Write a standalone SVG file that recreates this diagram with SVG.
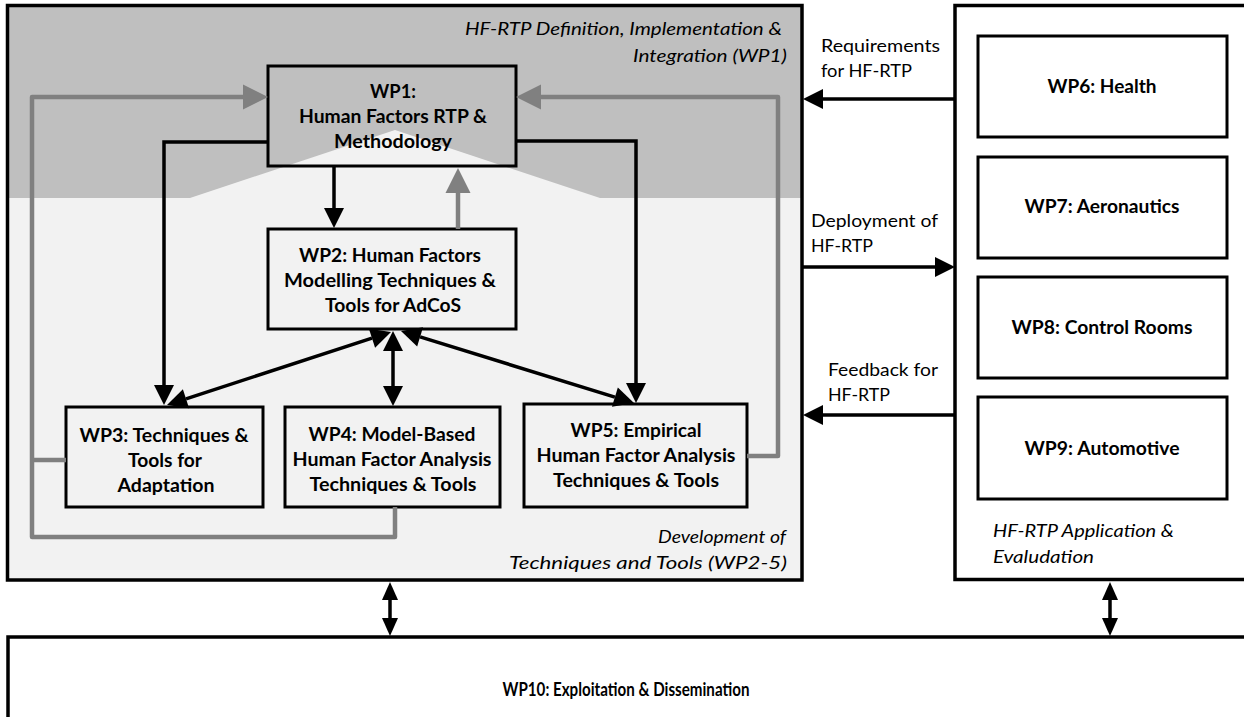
<svg xmlns="http://www.w3.org/2000/svg" width="1244" height="717" viewBox="0 0 1244 717">
<style>
.box{stroke:#000;stroke-width:3;}
.outer{stroke:#000;stroke-width:3.5;}
.lb{font-family:Lato,"Liberation Sans",sans-serif;font-weight:bold;font-size:18px;fill:#000;text-anchor:middle;}
.it{font-family:Lato,"Liberation Sans",sans-serif;font-style:italic;font-size:17px;fill:#000;}
.cl{font-family:Lato,"Liberation Sans",sans-serif;font-size:17px;fill:#000;}
.blk{fill:none;stroke:#000;stroke-width:3.5;}
.gry{fill:none;stroke:#808080;stroke-width:4.5;stroke-linejoin:round;}
</style>
<defs>
<marker id="ab" markerUnits="userSpaceOnUse" markerWidth="20" markerHeight="20" refX="0" refY="10" orient="auto-start-reverse" overflow="visible"><path d="M0,0 L20,10 L0,20 Z" fill="#000"/></marker>
<marker id="ag" markerUnits="userSpaceOnUse" markerWidth="25" markerHeight="25" refX="0" refY="12.5" orient="auto-start-reverse" overflow="visible"><path d="M0,0 L25,12.5 L0,25 Z" fill="#808080"/></marker>
<marker id="as" markerUnits="userSpaceOnUse" markerWidth="18" markerHeight="16" refX="0" refY="8" orient="auto-start-reverse" overflow="visible"><path d="M0,0 L18,8 L0,16 Z" fill="#000"/></marker>
</defs>
<rect width="1244" height="717" fill="#fff"/>

<g id="dev-area">
<rect x="7.5" y="5.5" width="794.5" height="574.5" fill="#f2f2f2"/>
<polygon points="9,7 801,7 801,198 600,198 395,130 190,198 9,198" fill="#bfbfbf"/>
<rect x="7.5" y="5.5" width="794.5" height="574.5" fill="none" class="outer"/>
<text class="it" x="782" y="35" text-anchor="end" textLength="317" lengthAdjust="spacingAndGlyphs">HF-RTP Definition, Implementation &amp;</text>
<text class="it" x="787" y="62" text-anchor="end" textLength="154" lengthAdjust="spacingAndGlyphs">Integration (WP1)</text>
<text class="it" x="786" y="543" text-anchor="end" textLength="128" lengthAdjust="spacingAndGlyphs">Development of</text>
<text class="it" x="787" y="569" text-anchor="end" textLength="278" lengthAdjust="spacingAndGlyphs">Techniques and Tools (WP2-5)</text>
</g>

<g id="app-area">
<rect x="955" y="5.5" width="300" height="574" fill="#fff" class="outer"/>
<text class="it" x="993" y="537" textLength="181" lengthAdjust="spacingAndGlyphs">HF-RTP Application &amp;</text>
<text class="it" x="993" y="563" textLength="101" lengthAdjust="spacingAndGlyphs">Evaludation</text>
</g>

<g id="wp1">
<rect x="268" y="66" width="248" height="100" fill="none" class="box"/>
<text class="lb" x="393" y="98" textLength="46" lengthAdjust="spacingAndGlyphs">WP1:</text>
<text class="lb" x="393" y="123" textLength="188" lengthAdjust="spacingAndGlyphs">Human Factors RTP &amp;</text>
<text class="lb" x="393" y="148" textLength="118" lengthAdjust="spacingAndGlyphs">Methodology</text>
</g>
<g id="wp2">
<rect x="268" y="229" width="248" height="100" fill="#f2f2f2" class="box"/>
<text class="lb" x="390" y="262" textLength="182" lengthAdjust="spacingAndGlyphs">WP2: Human Factors</text>
<text class="lb" x="390" y="287" textLength="212" lengthAdjust="spacingAndGlyphs">Modelling Techniques &amp;</text>
<text class="lb" x="393" y="312" textLength="136" lengthAdjust="spacingAndGlyphs">Tools for AdCoS</text>
</g>
<g id="wp3">
<rect x="66" y="407" width="197" height="100" fill="#f2f2f2" class="box"/>
<text class="lb" x="164" y="442" textLength="169" lengthAdjust="spacingAndGlyphs">WP3: Techniques &amp;</text>
<text class="lb" x="165" y="467" textLength="74" lengthAdjust="spacingAndGlyphs">Tools for</text>
<text class="lb" x="166" y="492" textLength="97" lengthAdjust="spacingAndGlyphs">Adaptation</text>
</g>
<g id="wp4">
<rect x="285" y="407" width="215" height="100" fill="#f2f2f2" class="box"/>
<text class="lb" x="392" y="441" textLength="167" lengthAdjust="spacingAndGlyphs">WP4: Model-Based</text>
<text class="lb" x="392" y="466" textLength="199" lengthAdjust="spacingAndGlyphs">Human Factor Analysis</text>
<text class="lb" x="393" y="491" textLength="167" lengthAdjust="spacingAndGlyphs">Techniques &amp; Tools</text>
</g>
<g id="wp5">
<rect x="524" y="404" width="223" height="103" fill="#f2f2f2" class="box"/>
<text class="lb" x="636" y="437" textLength="131" lengthAdjust="spacingAndGlyphs">WP5: Empirical</text>
<text class="lb" x="636" y="462" textLength="199" lengthAdjust="spacingAndGlyphs">Human Factor Analysis</text>
<text class="lb" x="636" y="487" textLength="166" lengthAdjust="spacingAndGlyphs">Techniques &amp; Tools</text>
</g>
<g id="wp6">
<rect x="978" y="36" width="249" height="101" fill="#fff" class="box"/>
<text class="lb" x="1102" y="93" textLength="109" lengthAdjust="spacingAndGlyphs">WP6: Health</text>
</g>
<g id="wp7">
<rect x="978" y="157" width="249" height="101" fill="#fff" class="box"/>
<text class="lb" x="1102" y="213" textLength="155" lengthAdjust="spacingAndGlyphs">WP7: Aeronautics</text>
</g>
<g id="wp8">
<rect x="978" y="277" width="249" height="101" fill="#fff" class="box"/>
<text class="lb" x="1102" y="334" textLength="181" lengthAdjust="spacingAndGlyphs">WP8: Control Rooms</text>
</g>
<g id="wp9">
<rect x="978" y="397" width="249" height="102" fill="#fff" class="box"/>
<text class="lb" x="1102" y="455" textLength="155" lengthAdjust="spacingAndGlyphs">WP9: Automotive</text>
</g>
<g id="wp10">
<rect x="8" y="637" width="1300" height="100" fill="#fff" class="outer"/>
<text class="lb" x="626" y="696" font-size="16" textLength="247" lengthAdjust="spacingAndGlyphs">WP10: Exploitation &amp; Dissemination</text>
</g>

<g id="connectors">
<path class="blk" d="M334,166 V208" marker-end="url(#ab)"/>
<path class="gry" d="M458,229 V193" marker-end="url(#ag)"/>
<path class="blk" d="M268,142 H164 V385" marker-end="url(#ab)"/>
<path class="blk" d="M516,141 H636 V383" marker-end="url(#ab)"/>
<path class="blk" d="M372,338.2 L186,398.8" marker-start="url(#ab)" marker-end="url(#ab)"/>
<path class="blk" d="M393,351 V386" marker-start="url(#ab)" marker-end="url(#ab)"/>
<path class="blk" d="M420.1,336.9 L614.9,397.1" marker-start="url(#ab)" marker-end="url(#ab)"/>
<path class="gry" d="M395,507 V537 H32 V97 H243" marker-end="url(#ag)"/>
<path class="gry" d="M66,460 H32"/>
<path class="gry" d="M747,456 H778 V97 H541" marker-end="url(#ag)"/>
<path class="blk" d="M955,99 H823" marker-end="url(#ab)"/>
<path class="blk" d="M803,267 H935" marker-end="url(#ab)"/>
<path class="blk" d="M955,415 H823" marker-end="url(#ab)"/>
<path class="blk" d="M390,600 V618" stroke-width="3" marker-start="url(#as)" marker-end="url(#as)"/>
<path class="blk" d="M1110,600 V618" stroke-width="3" marker-start="url(#as)" marker-end="url(#as)"/>
<text class="cl" x="821" y="52" textLength="119" lengthAdjust="spacingAndGlyphs">Requirements</text>
<text class="cl" x="821" y="77" textLength="91" lengthAdjust="spacingAndGlyphs">for HF-RTP</text>
<text class="cl" x="811" y="227" textLength="127" lengthAdjust="spacingAndGlyphs">Deployment of</text>
<text class="cl" x="811" y="252" textLength="62" lengthAdjust="spacingAndGlyphs">HF-RTP</text>
<text class="cl" x="828" y="376" textLength="110" lengthAdjust="spacingAndGlyphs">Feedback for</text>
<text class="cl" x="828" y="401" textLength="62" lengthAdjust="spacingAndGlyphs">HF-RTP</text>
</g>
</svg>
